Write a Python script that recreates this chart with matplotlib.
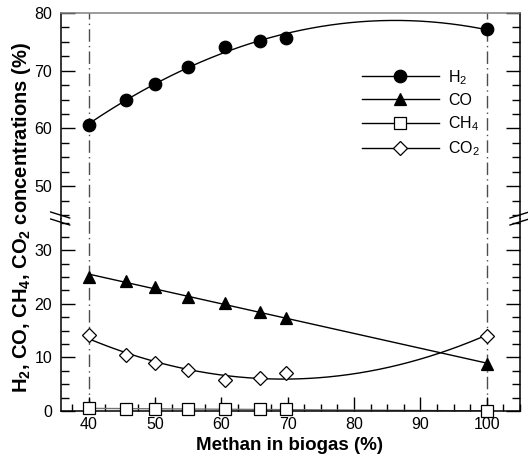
import numpy as np
import matplotlib
matplotlib.use("Agg")
import matplotlib.pyplot as plt
from matplotlib.ticker import MultipleLocator
from matplotlib.lines import Line2D

plt.rcParams["font.family"] = ["Liberation Sans", "DejaVu Sans"]
plt.rcParams["mathtext.default"] = "regular"

# methane content of the biogas (%)
methane = [40, 45.7, 50, 55, 60.5, 65.8, 69.8, 100]

h2 = [60.6, 64.9, 67.7, 70.6, 74.1, 75.1, 75.7, 77.2]
co = [25.0, 24.2, 23.1, 21.2, 20.1, 18.4, 17.3, 8.8]
ch4 = [0.5, 0.4, 0.4, 0.4, 0.3, 0.3, 0.3, 0.0]
co2 = [14.2, 10.4, 8.9, 7.6, 5.8, 6.1, 7.1, 14.0]

# (data, fit degree, marker, face colour, legend label)
series = [
    (h2,  2, "o", "black", "H$_2$"),
    (co,  1, "^", "black", "CO"),
    (ch4, 1, "s", "white", "CH$_4$"),
    (co2, 2, "D", "white", "CO$_2$"),
]

W, H = 528, 458
fig = plt.figure(figsize=(W / 100, H / 100), dpi=100)

left, right = 60.7 / W, 520 / W
y_top, y_brk, y_bot = 1 - 13 / H, 1 - 219 / H, 1 - 411 / H
ax_top = fig.add_axes([left, y_brk, right - left, y_top - y_brk])
ax_bot = fig.add_axes([left, y_bot, right - left, y_brk - y_bot])

ax_top.set_ylim(44.3, 80)
ax_bot.set_ylim(0, 35.8)
xs = np.linspace(40, 100, 200)


def msize(mk):
    return 9 if mk in "o^" else (8 if mk == "s" else 7.5)


for data, deg, mk, fc, lab in series:
    ax = ax_top if data is h2 else ax_bot
    coef = np.polyfit(methane, data, deg)
    lc = "0.45" if data is ch4 else "black"
    ax.plot(xs, np.polyval(coef, xs), color=lc, lw=1.0, zorder=2)
    ax.plot(methane, data, linestyle="none", marker=mk, ms=msize(mk),
            mfc=fc, mec="black", mew=0.9, zorder=3, clip_on=False)

for ax in (ax_top, ax_bot):
    ax.set_xlim(35.8, 105)
    for xv in (40, 100):
        ax.axvline(xv, color="0.3", lw=1.0, linestyle=(0, (9, 3, 1, 3)), zorder=1)
    ax.yaxis.set_major_locator(MultipleLocator(10))
    ax.yaxis.set_minor_locator(MultipleLocator(2.5))
    ax.xaxis.set_major_locator(MultipleLocator(10))
    ax.xaxis.set_minor_locator(MultipleLocator(2.5))
    ax.tick_params(axis="y", which="both", direction="in", left=True, right=True,
                   labelsize=11.5, pad=6)
    ax.tick_params(axis="y", which="major", length=10, width=1)
    ax.tick_params(axis="y", which="minor", length=6, width=1)
    ax.tick_params(axis="x", which="both", direction="in", top=False,
                   labelsize=11.5, pad=4)
    ax.tick_params(axis="x", which="major", length=10, width=1)
    ax.tick_params(axis="x", which="minor", length=5, width=1)
    for s in ax.spines.values():
        s.set_linewidth(1.1)

ax_top.spines["bottom"].set_visible(False)
ax_top.spines["top"].set_color("0.5")
ax_top.tick_params(axis="x", which="both", bottom=False, labelbottom=False)
ax_bot.spines["top"].set_visible(False)
ax_top.set_yticks([50, 60, 70, 80])
ax_bot.set_yticks([0, 10, 20, 30])

# break marks on both spines
for x0, sign in ((60.7, 1), (520, -1)):
    for dy in (-4, 3):
        xa, xb = x0 - 10, x0 + 9
        ya, yb = 219 + dy - 3 * sign, 219 + dy + 3 * sign
        fig.add_artist(Line2D([xa / W, xb / W], [1 - ya / H, 1 - yb / H],
                              color="black", lw=1.0))

handles = [Line2D([0], [0], color="black", lw=1.0, marker=mk, ms=msize(mk),
                  mfc=fc, mec="black", mew=0.9)
           for _, _, mk, fc, _ in series]
ax_top.legend(handles, [s[4] for s in series], loc="upper left",
              bbox_to_anchor=((362 - 60.7) / (520 - 60.7), (219 - 68) / 206),
              frameon=False, fontsize=11.5, handlelength=4.8, handletextpad=0.6,
              labelspacing=0.4, borderpad=0, borderaxespad=0)

fig.text(22 / W, 1 - 217 / H, "H$_2$, CO, CH$_4$, CO$_2$ concentrations (%)",
         rotation=90, ha="center", va="center", fontsize=14.5, fontweight="bold")
fig.text(290 / W, 1 - 445 / H, "Methan in biogas (%)", ha="center", va="center",
         fontsize=13.5, fontweight="bold")

fig.savefig("out.png", dpi=100)
